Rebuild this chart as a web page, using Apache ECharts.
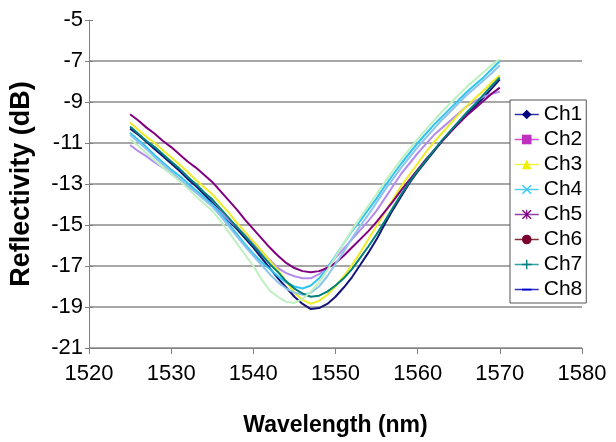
<!DOCTYPE html>
<html>
<head>
<meta charset="utf-8">
<script src="https://cdn.jsdelivr.net/npm/echarts@6/dist/echarts.min.js"></script>
<style>
html,body{margin:0;padding:0;background:#fff;}
#chart{width:616px;height:442px;}
</style>
</head>
<body>
<div id="chart"></div>
<script>
// Wavelength sample points (nm)
var wavelengths = [1525,1526,1527,1528,1529,1530,1531,1532,1533,1534,1535,1536,1537,1538,1539,1540,1541,1542,1543,1544,1545,1546,1547,1548,1549,1550,1551,1552,1553,1554,1555,1556,1557,1558,1559,1560,1561,1562,1563,1564,1565,1566,1567,1568,1569,1570];

var ch1 = [-10.3,-10.6,-10.95,-11.3,-11.65,-12.0,-12.35,-12.75,-13.1,-13.5,-13.9,-14.35,-14.8,-15.2,-15.65,-16.1,-16.6,-17.1,-17.6,-18.05,-18.5,-18.85,-19.1,-19.05,-18.85,-18.5,-18.05,-17.55,-16.95,-16.35,-15.7,-14.95,-14.25,-13.6,-12.95,-12.4,-11.9,-11.4,-10.9,-10.45,-10.0,-9.6,-9.2,-8.8,-8.35,-7.9];
var ch2 = [-11.1,-11.4,-11.65,-11.95,-12.2,-12.5,-12.8,-13.1,-13.4,-13.7,-14.0,-14.35,-14.75,-15.1,-15.5,-15.9,-16.3,-16.7,-17.1,-17.35,-17.5,-17.6,-17.6,-17.4,-17.05,-16.6,-16.15,-15.7,-15.25,-14.8,-14.3,-13.7,-13.1,-12.5,-12.0,-11.5,-11.05,-10.6,-10.25,-9.9,-9.55,-9.2,-8.95,-8.75,-8.6,-8.5];
var ch3 = [-10.0,-10.35,-10.7,-11.0,-11.35,-11.7,-12.05,-12.4,-12.8,-13.15,-13.5,-13.95,-14.4,-14.9,-15.35,-15.8,-16.25,-16.75,-17.2,-17.75,-18.3,-18.65,-18.85,-18.7,-18.4,-18.0,-17.5,-16.95,-16.35,-15.7,-15.05,-14.4,-13.75,-13.1,-12.55,-12.0,-11.45,-10.95,-10.5,-10.05,-9.6,-9.2,-8.8,-8.45,-8.05,-7.7];
var ch4 = [-10.5,-10.85,-11.2,-11.6,-11.95,-12.3,-12.6,-12.95,-13.3,-13.65,-14.0,-14.45,-14.95,-15.45,-15.95,-16.4,-16.8,-17.15,-17.5,-17.8,-18.0,-18.1,-17.95,-17.6,-17.1,-16.5,-15.9,-15.3,-14.8,-14.25,-13.7,-13.1,-12.55,-12.0,-11.5,-11.0,-10.55,-10.1,-9.7,-9.3,-8.9,-8.5,-8.15,-7.8,-7.4,-7.0];
var ch5 = [-9.6,-9.9,-10.25,-10.55,-10.9,-11.2,-11.55,-11.9,-12.2,-12.55,-12.9,-13.35,-13.8,-14.25,-14.75,-15.2,-15.65,-16.1,-16.5,-16.85,-17.1,-17.25,-17.3,-17.25,-17.1,-16.85,-16.5,-16.1,-15.7,-15.3,-14.85,-14.35,-13.85,-13.3,-12.8,-12.3,-11.8,-11.35,-10.9,-10.45,-10.05,-9.65,-9.3,-8.95,-8.6,-8.3];
var ch6 = [-10.6,-10.95,-11.3,-11.7,-12.05,-12.4,-12.75,-13.1,-13.4,-13.75,-14.1,-14.55,-15.05,-15.55,-16.05,-16.5,-16.95,-17.4,-17.8,-18.1,-18.3,-18.4,-18.3,-18.0,-17.5,-16.9,-16.3,-15.65,-15.05,-14.5,-13.9,-13.3,-12.75,-12.2,-11.7,-11.2,-10.75,-10.3,-9.85,-9.45,-9.05,-8.65,-8.3,-7.95,-7.6,-7.2];
var ch7 = [-10.2,-10.55,-10.9,-11.2,-11.55,-11.9,-12.25,-12.65,-13.0,-13.4,-13.75,-14.2,-14.65,-15.1,-15.55,-16.0,-16.45,-16.9,-17.3,-17.75,-18.1,-18.35,-18.5,-18.45,-18.25,-17.95,-17.6,-17.15,-16.6,-16.05,-15.45,-14.8,-14.15,-13.5,-12.9,-12.35,-11.85,-11.35,-10.85,-10.4,-9.95,-9.5,-9.1,-8.65,-8.2,-7.8];
var ch8 = [-10.8,-11.15,-11.5,-11.85,-12.2,-12.5,-12.85,-13.2,-13.6,-13.95,-14.3,-14.8,-15.35,-15.9,-16.45,-17.0,-17.65,-18.2,-18.5,-18.75,-18.8,-18.6,-18.25,-17.8,-17.2,-16.55,-15.9,-15.25,-14.65,-14.05,-13.5,-12.9,-12.35,-11.8,-11.3,-10.8,-10.35,-9.9,-9.45,-9.05,-8.65,-8.25,-7.9,-7.55,-7.2,-6.9];

var channelNames = ['Ch1','Ch2','Ch3','Ch4','Ch5','Ch6','Ch7','Ch8'];
var channelValues = [ch1,ch2,ch3,ch4,ch5,ch6,ch7,ch8];
var xTicks = [1520,1530,1540,1550,1560,1570,1580];
var yTicks = [-21,-19,-17,-15,-13,-11,-9,-7,-5];

var plotLineColors = ['#14147a','#b48cf0','#ecec28','#30c4f0','#800080','#8cc4ec','#00807a','#bff0bf'];
var legendLineColors = ['#3030a0','#cc55cc','#f0f040','#55ccf0','#9040a0','#803030','#30a0a0','#3030c0'];
var markerColors = ['#000080','#c030c0','#f0f000','#33ccff','#800080','#7a0030','#008080','#0000cc'];
var markerShapes = [
  'diamond',
  'rect',
  'triangle',
  'path://M0,1L1,0L5,4L9,0L10,1L6,5L10,9L9,10L5,6L1,10L0,9L4,5Z',
  'path://M0,1L1,0L5,4L9,0L10,1L6,5L10,9L9,10L5,6L1,10L0,9L4,5Z M4.4,0H5.6V10H4.4Z',
  'circle',
  'path://M4.3,0H5.7V4.3H10V5.7H5.7V10H4.3V5.7H0V4.3H4.3Z',
  'path://M0,0H0.01V0.01H0Z M9.99,9.99H10V10H9.99Z M0,4.1H10V6.1H0Z'
];

var series = channelNames.map(function (name, i) {
  return {
    name: name,
    type: 'line',
    showSymbol: false,
    symbol: markerShapes[i],
    symbolSize: 9,
    symbolKeepAspect: true,
    lineStyle: { color: plotLineColors[i], width: 2 },
    itemStyle: { color: markerColors[i] },
    data: wavelengths.map(function (w, k) { return [w, channelValues[i][k]]; }),
    z: 2 + i,
    silent: true,
    animation: false
  };
});

var gridColors = yTicks.map(function (t, i) { return i === yTicks.length - 1 ? 'rgba(0,0,0,0)' : '#8a8a8a'; });

var chart = echarts.init(document.getElementById('chart'), null, { renderer: 'canvas' });
chart.setOption({
  animation: false,
  backgroundColor: '#ffffff',
  textStyle: { fontFamily: 'Liberation Sans, Arial, sans-serif' },
  grid: { left: 88, top: 20, width: 494, height: 329, containLabel: false },
  legend: {
    orient: 'vertical',
    left: 510,
    top: 100,
    width: 76,
    padding: [2, 4, 1, 4],
    itemGap: 0,
    itemWidth: 24,
    itemHeight: 12,
    borderColor: '#555',
    borderWidth: 1,
    backgroundColor: '#ffffff',
    textStyle: { fontSize: 21, color: '#000', lineHeight: 25, padding: [0, 0, 0, 0] },
    data: channelNames.map(function (n, i) {
      return { name: n, itemStyle: { color: markerColors[i] }, lineStyle: { color: legendLineColors[i], width: 1.5 } };
    })
  },
  xAxis: {
    type: 'value',
    min: 1520,
    max: 1580,
    interval: 10,
    name: 'Wavelength (nm)',
    nameLocation: 'middle',
    nameGap: 66,
    nameTextStyle: { fontSize: 23, fontWeight: 'bold', color: '#000' },
    axisLine: { show: true, lineStyle: { color: '#808080', width: 1 } },
    axisTick: { show: true, length: 6, lineStyle: { color: '#808080' } },
    axisLabel: { fontSize: 22, color: '#000', margin: 15, formatter: function (v) { return String(v); } },
    splitLine: { show: false }
  },
  yAxis: [{
    type: 'value',
    min: -21,
    max: -5,
    interval: 2,
    name: 'Reflectivity (dB)',
    nameLocation: 'middle',
    nameGap: 54,
    nameTextStyle: { fontSize: 27, fontWeight: 'bold', color: '#000' },
    axisLine: { show: true, onZero: false, lineStyle: { color: '#808080', width: 1 } },
    axisTick: { show: true, length: 4, lineStyle: { color: '#808080' } },
    axisLabel: { fontSize: 22, color: '#000', margin: 6 },
    splitLine: { show: true, lineStyle: { color: gridColors, width: 1.5 } }
  }, {
    type: 'value',
    min: -21,
    max: -5,
    interval: 2,
    position: 'left',
    axisLine: { show: false, onZero: false },
    axisTick: { show: true, inside: true, length: 4, lineStyle: { color: '#808080' } },
    axisLabel: { show: false },
    splitLine: { show: false }
  }],
  series: series
});
</script>
</body>
</html>
